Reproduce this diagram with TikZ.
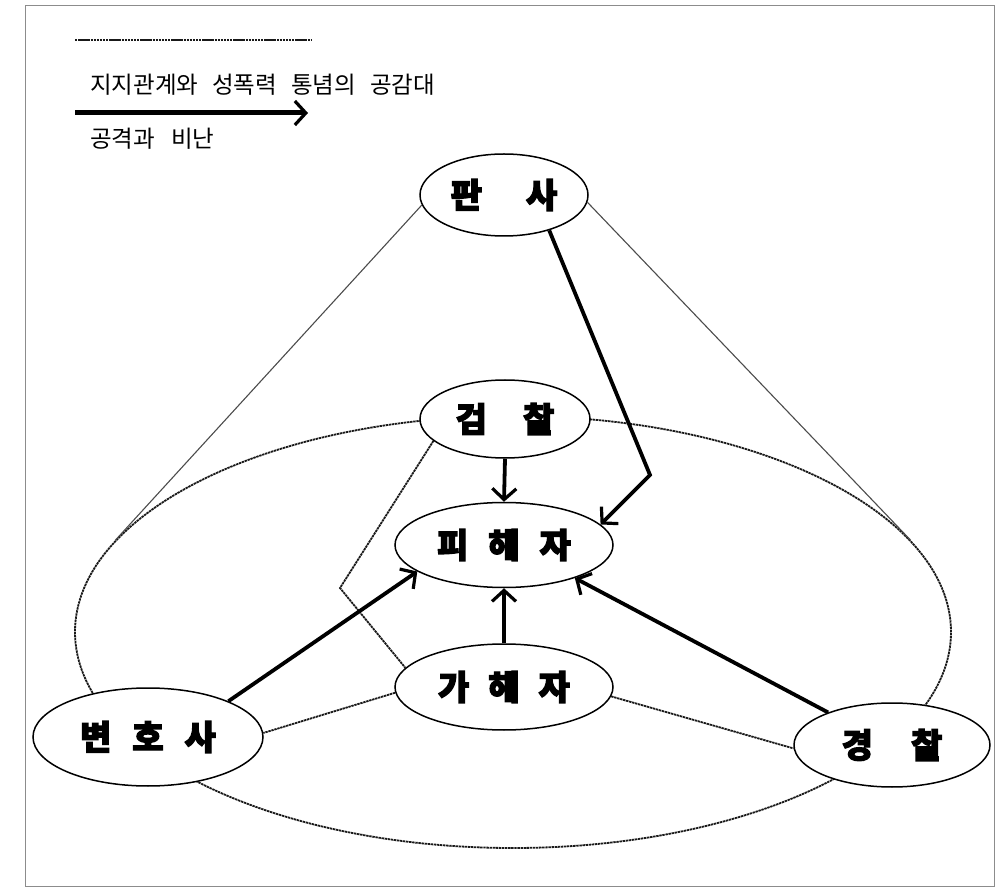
\documentclass[tikz,border=0pt]{standalone}
\usepackage{fontspec}
\newfontfamily\kr{Noto Sans CJK KR}
\newfontfamily\krb{Noto Sans CJK KR}[BoldFeatures={FakeBold=3.5}]
\usetikzlibrary{shapes.geometric,arrows.meta}
\begin{document}
\begin{tikzpicture}[x=1pt,y=-1pt,
  nd/.style={ellipse, draw, line width=1.5pt, fill=white, inner sep=0pt,
    font=\krb\bfseries\fontsize{34}{34}\selectfont},
  cone/.style={line width=1.1pt, black!70},
  dots/.style={line width=1.8pt, dash pattern=on 2.4pt off 0.7pt, black!90},
  atk/.style={line width=3.8pt, line join=miter,
    -{Straight Barb[length=11pt,width=24pt,line width=3.2pt]}},
  legtext/.style={anchor=west, inner sep=0pt, font=\kr\fontsize{23.5}{23.5}\selectfont}
]
\useasboundingbox (0,0) rectangle (1002,890);
\fill[white] (0,0) rectangle (1002,890);
% frame
\draw[black!45, line width=1pt] (25,6) rectangle (994,886);

% legend
\coordinate (la) at (75,40);
\coordinate (lb) at (312,40);
\draw[dots, line width=1.4pt] (la) -- (lb);
\node[legtext] (l1) at (90,85) {지지관계와\hspace{14pt}성폭력\hspace{14pt}통념의\hspace{14pt}공감대};
\coordinate (lc) at (75,113);
\coordinate (ld) at (308,113);
\draw[atk, line width=5pt] (lc) -- (ld);
\node[legtext] (l2) at (90,139) {공격과\hspace{16pt}비난};

% big field ellipse
\node[ellipse, draw, dots, minimum width=876pt, minimum height=432pt, inner sep=0pt] (field) at (513,632) {};

% nodes
\node[nd, minimum width=168pt, minimum height=82pt] (pansa) at (504,195) {판\hspace{44pt}사};
\node[nd, minimum width=170pt, minimum height=78pt] (gc) at (505,419) {검\hspace{36pt}찰};
\node[nd, minimum width=218pt, minimum height=85pt] (ph) at (504,545) {피\hspace{20pt}해\hspace{20pt}자};
\node[nd, minimum width=218pt, minimum height=86pt] (gh) at (504,687) {가\hspace{19pt}해\hspace{19pt}자};
\node[nd, minimum width=230pt, minimum height=98pt] (byh) at (148,737) {변\hspace{21pt}호\hspace{21pt}사};
\node[nd, minimum width=196pt, minimum height=84pt] (gy) at (892,745) {경\hspace{38pt}찰};

% cone lines from judge to field
\draw[cone] (pansa.187) -- (field.167.5);
\draw[cone] (pansa.355) -- (field.13.1);

% dotted support lines
\coordinate (kb) at (340,588);
\draw[dots] (gc.197.7) -- (kb) -- (gh.169.6);
\draw[dots] (gh.183) -- (byh.2);
\draw[dots] (gh.355) -- (gy.182);

% attack arrows
\coordinate (pb) at (650,475);
\draw[atk] (pansa.-38) -- (pb) -- (ph.12);
\draw[atk] (gc.south) -- (ph.north);
\draw[atk] (byh.24) -- (ph.197.8);
\draw[atk] (gh.north) -- (ph.south);
\draw[atk] (gy.153.4) -- (ph.-25.9);
\end{tikzpicture}
\end{document}
